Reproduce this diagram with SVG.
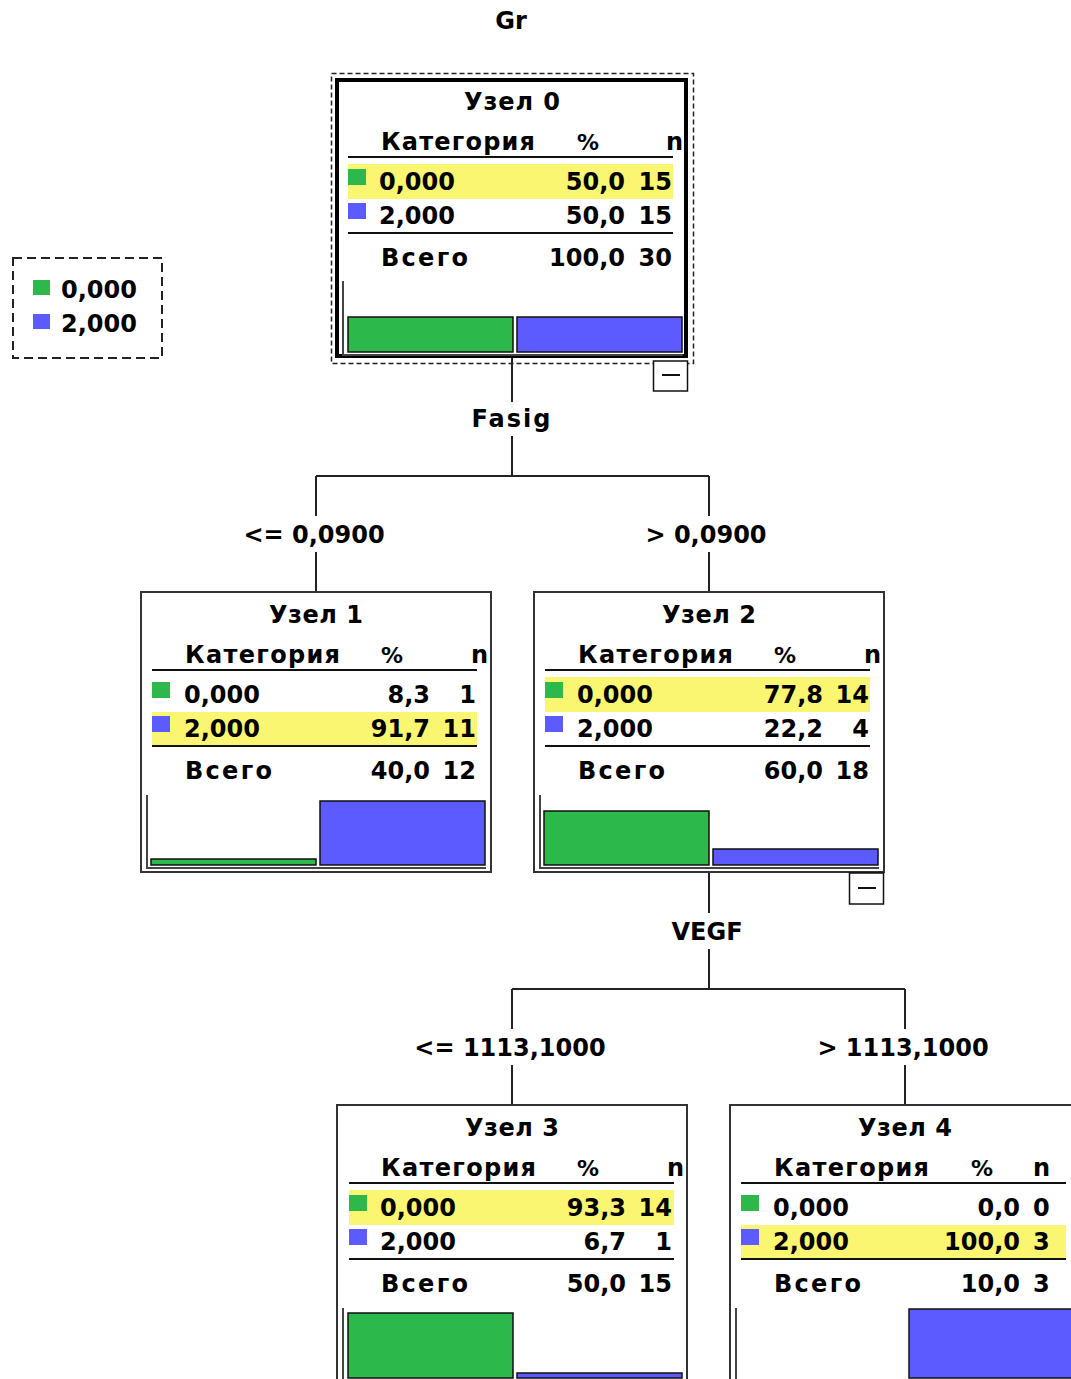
<svg xmlns="http://www.w3.org/2000/svg" width="1071" height="1379" viewBox="0 0 1071 1379">
<style>
.t{font-family:"DejaVu Sans","Liberation Sans",sans-serif;font-weight:bold;font-size:24px;fill:#000}
.m{text-anchor:middle}
.e{text-anchor:end}
.pc{font-size:22px}
.box{fill:#fff;stroke:#333;stroke-width:2}
.hl{fill:#FAF672}
.g{fill:#2DB84B}
.b{fill:#5B5BFF}
.bar{stroke:#111;stroke-width:1.5}
.rule{stroke:#111;stroke-width:2;fill:none}
.axis{fill:none;stroke:#444;stroke-width:2}
.conn{stroke:#222;stroke-width:2;fill:none}
.cb{fill:#fff;stroke:#111;stroke-width:1.5}
</style>
<rect width="1071" height="1379" fill="#fff"/>
<text class="t m" x="511" y="29">Gr</text>

<g id="legend">
<rect x="13" y="258" width="149" height="100" fill="none" stroke="#222" stroke-width="2" stroke-dasharray="9 5"/>
<rect class="g" x="33" y="280" width="17" height="15"/>
<rect class="b" x="33" y="314" width="17" height="15"/>
<text class="t" x="61" y="298">0,000</text>
<text class="t" x="61" y="332">2,000</text>
</g>

<g id="connectors">
<path class="conn" d="M512,358V402M512,436V476M316,476H709M316,476V516M316,552V592M709,476V516M709,552V592"/>
<path class="conn" d="M709,872V913M709,949V989M512,989H905M512,989V1029M512,1065V1105M905,989V1029M905,1065V1105"/>
<text class="t m" x="511" y="427" textLength="79" lengthAdjust="spacing">Fasig</text>
<text class="t m" x="314" y="543">&lt;= 0,0900</text>
<text class="t m" x="706" y="543">&gt; 0,0900</text>
<text class="t m" x="707" y="940">VEGF</text>
<text class="t m" x="510" y="1056">&lt;= 1113,1000</text>
<text class="t m" x="903" y="1056">&gt; 1113,1000</text>
</g>

<g id="node0">
<rect x="331.5" y="73.5" width="362" height="290" fill="none" stroke="#222" stroke-width="1.5" stroke-dasharray="5 3"/>
<g transform="translate(336,79)">
<rect x="1" y="1" width="349" height="276" fill="#fff" stroke="#000" stroke-width="4"/>
<text class="t m" x="176" y="31" textLength="96" lengthAdjust="spacing">Узел 0</text>
<text class="t" x="45" y="71" textLength="154" lengthAdjust="spacing">Категория</text>
<text class="t m pc" x="252" y="71">%</text>
<text class="t e" x="347" y="71">n</text>
<path class="rule" d="M12,78H337"/>
<rect class="hl" x="12" y="85" width="325" height="35"/>
<rect class="g" x="12" y="90" width="18" height="16"/>
<rect class="b" x="12" y="124" width="18" height="16"/>
<text class="t" x="43" y="111">0,000</text>
<text class="t e" x="289" y="111">50,0</text>
<text class="t e" x="336" y="111">15</text>
<text class="t" x="43" y="145">2,000</text>
<text class="t e" x="289" y="145">50,0</text>
<text class="t e" x="336" y="145">15</text>
<path class="rule" d="M12,154H337"/>
<text class="t" x="45" y="187" textLength="87" lengthAdjust="spacing">Всего</text>
<text class="t e" x="289" y="187">100,0</text>
<text class="t e" x="336" y="187">30</text>
<path class="axis" d="M7,202V276H347"/>
<rect class="g bar" x="12" y="238" width="165" height="35"/>
<rect class="b bar" x="181" y="238" width="165" height="35"/>
</g>
<rect class="cb" x="653.5" y="361" width="34" height="30"/>
<path class="rule" d="M662,375H680" stroke-width="1.5"/>
</g>

<g id="node1" transform="translate(141,592)">
<rect class="box" x="0" y="0" width="350" height="280"/>
<text class="t m" x="175" y="31" textLength="94" lengthAdjust="spacing">Узел 1</text>
<text class="t" x="44" y="71" textLength="155" lengthAdjust="spacing">Категория</text>
<text class="t m pc" x="251" y="71">%</text>
<text class="t e" x="347" y="71">n</text>
<path class="rule" d="M11,78H336"/>
<rect class="hl" x="11" y="120" width="325" height="33"/>
<rect class="g" x="11" y="90" width="18" height="16"/>
<rect class="b" x="11" y="124" width="18" height="16"/>
<text class="t" x="43" y="111">0,000</text>
<text class="t e" x="289" y="111">8,3</text>
<text class="t e" x="335" y="111">1</text>
<text class="t" x="43" y="145">2,000</text>
<text class="t e" x="289" y="145">91,7</text>
<text class="t e" x="335" y="145">11</text>
<path class="rule" d="M11,154H336"/>
<text class="t" x="44" y="187" textLength="87" lengthAdjust="spacing">Всего</text>
<text class="t e" x="289" y="187">40,0</text>
<text class="t e" x="335" y="187">12</text>
<path class="axis" d="M6,203V276H345"/>
<rect class="g bar" x="10" y="267" width="165" height="6"/>
<rect class="b bar" x="179" y="209" width="165" height="64"/>
</g>

<g id="node2" transform="translate(534,592)">
<rect class="box" x="0" y="0" width="350" height="280"/>
<text class="t m" x="175" y="31" textLength="94" lengthAdjust="spacing">Узел 2</text>
<text class="t" x="44" y="71" textLength="155" lengthAdjust="spacing">Категория</text>
<text class="t m pc" x="251" y="71">%</text>
<text class="t e" x="347" y="71">n</text>
<path class="rule" d="M11,78H336"/>
<rect class="hl" x="11" y="85" width="325" height="35"/>
<rect class="g" x="11" y="90" width="18" height="16"/>
<rect class="b" x="11" y="124" width="18" height="16"/>
<text class="t" x="43" y="111">0,000</text>
<text class="t e" x="289" y="111">77,8</text>
<text class="t e" x="335" y="111">14</text>
<text class="t" x="43" y="145">2,000</text>
<text class="t e" x="289" y="145">22,2</text>
<text class="t e" x="335" y="145">4</text>
<path class="rule" d="M11,154H336"/>
<text class="t" x="44" y="187" textLength="87" lengthAdjust="spacing">Всего</text>
<text class="t e" x="289" y="187">60,0</text>
<text class="t e" x="335" y="187">18</text>
<path class="axis" d="M6,203V276H345"/>
<rect class="g bar" x="10" y="219" width="165" height="54"/>
<rect class="b bar" x="179" y="257" width="165" height="16"/>
<rect class="cb" x="315.5" y="281" width="34" height="31"/>
<path class="rule" d="M324,296H342" stroke-width="1.5"/>
</g>

<g id="node3" transform="translate(337,1105)">
<rect class="box" x="0" y="0" width="350" height="280"/>
<text class="t m" x="175" y="31" textLength="94" lengthAdjust="spacing">Узел 3</text>
<text class="t" x="44" y="71" textLength="155" lengthAdjust="spacing">Категория</text>
<text class="t m pc" x="251" y="71">%</text>
<text class="t e" x="347" y="71">n</text>
<path class="rule" d="M12,78H337"/>
<rect class="hl" x="12" y="85" width="325" height="35"/>
<rect class="g" x="12" y="90" width="18" height="16"/>
<rect class="b" x="12" y="124" width="18" height="16"/>
<text class="t" x="43" y="111">0,000</text>
<text class="t e" x="289" y="111">93,3</text>
<text class="t e" x="335" y="111">14</text>
<text class="t" x="43" y="145">2,000</text>
<text class="t e" x="289" y="145">6,7</text>
<text class="t e" x="335" y="145">1</text>
<path class="rule" d="M12,154H337"/>
<text class="t" x="44" y="187" textLength="87" lengthAdjust="spacing">Всего</text>
<text class="t e" x="289" y="187">50,0</text>
<text class="t e" x="335" y="187">15</text>
<path class="axis" d="M6,203V276H345"/>
<rect class="g bar" x="11" y="208" width="165" height="65"/>
<rect class="b bar" x="180" y="268" width="165" height="5"/>
</g>

<g id="node4" transform="translate(730,1105)">
<rect class="box" x="0" y="0" width="350" height="280"/>
<text class="t m" x="175" y="31" textLength="94" lengthAdjust="spacing">Узел 4</text>
<text class="t" x="44" y="71" textLength="155" lengthAdjust="spacing">Категория</text>
<text class="t m pc" x="252" y="71">%</text>
<text class="t" x="303" y="71">n</text>
<path class="rule" d="M11,78H336"/>
<rect class="hl" x="11" y="120" width="325" height="33"/>
<rect class="g" x="11" y="90" width="18" height="16"/>
<rect class="b" x="11" y="124" width="18" height="16"/>
<text class="t" x="43" y="111">0,000</text>
<text class="t e" x="290" y="111">0,0</text>
<text class="t" x="303" y="111">0</text>
<text class="t" x="43" y="145">2,000</text>
<text class="t e" x="290" y="145">100,0</text>
<text class="t" x="303" y="145">3</text>
<path class="rule" d="M11,154H336"/>
<text class="t" x="44" y="187" textLength="87" lengthAdjust="spacing">Всего</text>
<text class="t e" x="290" y="187">10,0</text>
<text class="t" x="303" y="187">3</text>
<path class="axis" d="M6,203V276H345"/>
<rect class="b bar" x="179" y="204" width="165" height="69"/>
</g>
</svg>
